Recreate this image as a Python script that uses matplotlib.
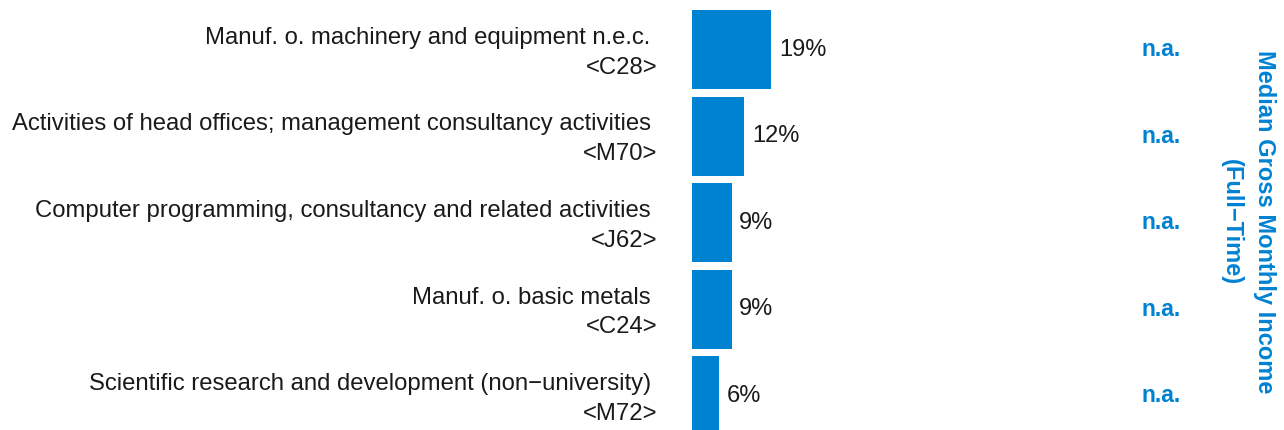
import matplotlib.pyplot as plt

industries = [
    "Manuf. o. machinery and equipment n.e.c.",
    "Activities of head offices; management consultancy activities",
    "Computer programming, consultancy and related activities",
    "Manuf. o. basic metals",
    "Scientific research and development (non\u2212university)",
]
codes = ["<C28>", "<M70>", "<J62>", "<C24>", "<M72>"]
shares = [18.7, 12.3, 9.3, 9.3, 6.3]
income = ["n.a.", "n.a.", "n.a.", "n.a.", "n.a."]

blue = "#0082D2"
W, H = 1284, 430

fig = plt.figure(figsize=(W / 100, H / 100), dpi=100)
# bars start at x=692px, 4.25 px per percent
ax = fig.add_axes([692 / W, 0, (1100 - 692) / W, 1])
ax.set_xlim(0, (1100 - 692) / 4.25)
# bar centres at 49.5px from top, spacing 86.6px
ax.set_ylim((H - 49.5) / 86.6, -49.5 / 86.6)
ax.axis("off")

y = list(range(len(shares)))
ax.barh(y, shares, height=0.91, color=blue, clip_on=False)

for i, (name, code, v) in enumerate(zip(industries, codes, shares)):
    ax.annotate(f"{v:.0f}%", (v, i), xytext=(5.5, 0), textcoords="offset points",
                va="center", ha="left", fontsize=17, family="Liberation Sans",
                color="#1a1a1a")
    ax.annotate(name + " \n" + code, (0, i), xytext=(-25, -2.3),
                textcoords="offset points", va="center", ha="right",
                multialignment="right", fontsize=17.2, linespacing=1.45,
                family="Liberation Sans", color="#1a1a1a")
    ax.annotate(income[i], (1161 / W, i), xycoords=("figure fraction", "data"),
                va="center", ha="center", fontsize=16.5, fontweight="bold",
                family="Liberation Sans", color=blue)

fig.text(1248 / W, 1 - 222 / H, "Median Gross Monthly Income\n(Full\u2212Time)",
         rotation=270, ha="center", va="center", multialignment="center",
         fontsize=17, fontweight="bold", family="Liberation Sans", color=blue,
         linespacing=1.6)

fig.savefig("out.png", dpi=100)
